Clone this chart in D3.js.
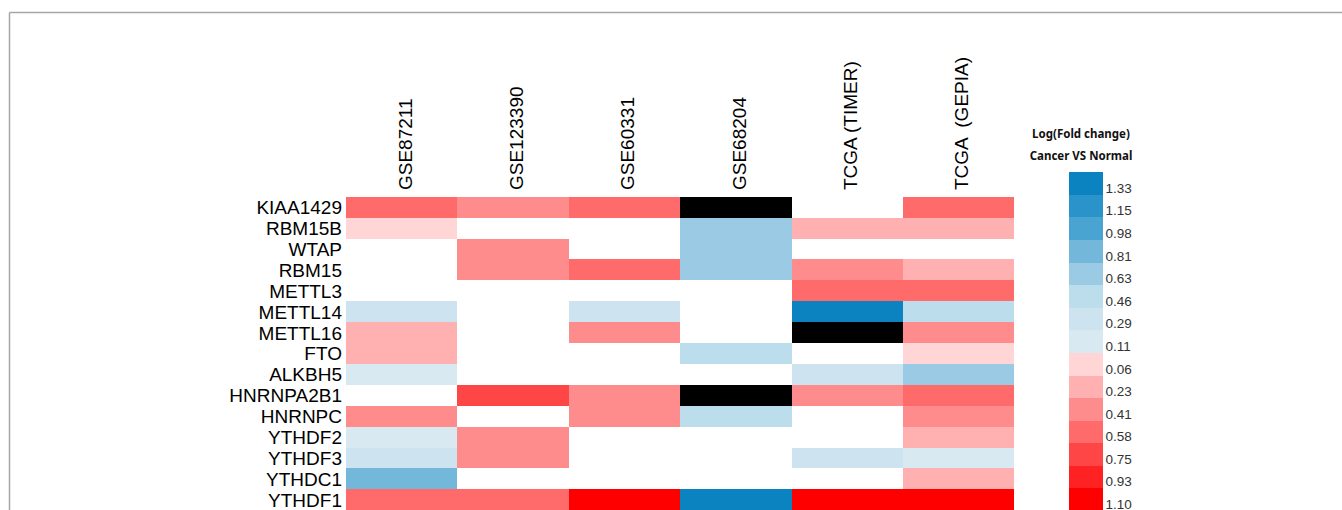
<!DOCTYPE html>
<html>
<head>
<meta charset="utf-8">
<script src="https://cdn.jsdelivr.net/npm/d3@7"></script>
<style>
  body { margin: 0; background: #fff; }
  svg { display: block; }
</style>
</head>
<body>
<svg width="1342" height="510"></svg>
<script>
"use strict";

// m6A regulators (rows) and datasets (columns)
const genes = ["KIAA1429", "RBM15B", "WTAP", "RBM15", "METTL3", "METTL14", "METTL16", "FTO",
  "ALKBH5", "HNRNPA2B1", "HNRNPC", "YTHDF2", "YTHDF3", "YTHDC1", "YTHDF1"];
const datasets = ["GSE87211", "GSE123390", "GSE60331", "GSE68204", "TCGA (TIMER)", "TCGA  (GEPIA)"];

// log fold change per dataset: negative = blue, null = blank, "NA" = black
const gse87211 = [0.58, 0.06, null, null, null, -0.29, 0.23, 0.23, -0.11, null, 0.41, -0.11, -0.29, -0.81, 0.58];
const gse123390 = [0.41, null, 0.41, 0.41, null, null, null, null, null, 0.75, null, 0.41, 0.41, null, 0.58];
const gse60331 = [0.58, null, null, 0.58, null, -0.29, 0.41, null, null, 0.41, 0.41, null, null, null, 1.10];
const gse68204 = ["NA", -0.63, -0.63, -0.63, null, null, null, -0.46, null, "NA", -0.46, null, null, null, -1.33];
const tcgaTimer = [null, 0.23, null, 0.41, 0.58, -1.33, "NA", null, -0.29, 0.41, null, null, -0.29, null, 1.10];
const tcgaGepia = [0.58, 0.23, null, 0.23, 0.58, -0.46, 0.41, 0.06, -0.63, 0.58, 0.41, 0.23, -0.11, 0.23, 1.10];

// legend tick labels, top to bottom
const legendBlue = [1.33, 1.15, 0.98, 0.81, 0.63, 0.46, 0.29, 0.11];
const legendRed = [0.06, 0.23, 0.41, 0.58, 0.75, 0.93, 1.10];

const palette = ["#0b83c1", "#2a93ca", "#4aa4d2", "#73b7db", "#9bcbe4", "#bcddec", "#cde4f0", "#d8e9f2",
  "#ffd5d5", "#ffb1b1", "#ff8c8c", "#ff6b6b", "#ff4646", "#ff2222", "#ff0000"];

const columns = [gse87211, gse123390, gse60331, gse68204, tcgaTimer, tcgaGepia];

// flatten into cells
const cells = [];
columns.forEach((col, j) => {
  col.forEach((v, i) => {
    cells.push({ gene: genes[i], set: datasets[j], value: v });
  });
});

// signed legend values (blue as negative), used to build the thresholds
const legendVals = legendBlue.map((d) => -d).concat(legendRed);
const thresholds = [];
for (let k = 0; k < legendVals.length - 1; k++) {
  const a = legendVals[k], b = legendVals[k + 1];
  thresholds.push(a < 0 && b > 0 ? 0 : (a + b) / 2);
}
const color = d3.scaleThreshold().domain(thresholds).range(palette);

const svg = d3.select("svg");

// frame lines
svg.append("line").attr("x1", 9.5).attr("x2", 1342).attr("y1", 12.5).attr("y2", 12.5)
  .attr("stroke", "#a6a6a6").attr("stroke-width", 1.5);
svg.append("line").attr("x1", 9.5).attr("x2", 9.5).attr("y1", 12.5).attr("y2", 510)
  .attr("stroke", "#a6a6a6").attr("stroke-width", 1.5);

const x = d3.scaleBand().domain(datasets).range([346, 1014.3]);
const y = d3.scaleBand().domain(genes).range([196.7, 510.2]);

const g = svg.append("g");

g.selectAll("rect.cell")
  .data(cells.filter((d) => d.value !== null))
  .enter()
  .append("rect")
  .attr("class", "cell")
  .attr("x", (d) => x(d.set))
  .attr("y", (d) => y(d.gene))
  .attr("width", x.bandwidth())
  .attr("height", y.bandwidth())
  .attr("fill", (d) => (d.value === "NA" ? "#000" : color(d.value)))
  .attr("shape-rendering", "crispEdges");

// row labels
const yAxis = d3.axisLeft(y).tickSize(0).tickPadding(4);
g.append("g")
  .attr("transform", "translate(346,0)")
  .call(yAxis)
  .call((s) => s.select(".domain").remove())
  .selectAll("text")
  .attr("font-family", "'Liberation Sans', Arial, sans-serif")
  .attr("font-size", "19px")
  .attr("fill", "#000")
  .attr("dy", "0.37em");

// column labels, rotated
const xAxis = d3.axisTop(x).tickSize(0).tickPadding(0);
g.append("g")
  .attr("transform", "translate(0,190)")
  .call(xAxis)
  .call((s) => s.select(".domain").remove())
  .selectAll("text")
  .attr("font-family", "'Liberation Sans', Arial, sans-serif")
  .attr("font-size", "19px")
  .attr("fill", "#000")
  .attr("text-anchor", "start")
  .attr("transform", "rotate(-90)")
  .attr("x", 0)
  .attr("y", 3)
  .attr("dy", "0.36em")
  .style("white-space", "pre");

// legend
const legendLabels = legendBlue.concat(legendRed);
const ly = d3.scaleBand().domain(d3.range(legendLabels.length)).range([172.3, 511]);
const legend = svg.append("g");

legend.selectAll("rect")
  .data(legendLabels)
  .enter()
  .append("rect")
  .attr("x", 1069.3)
  .attr("y", (d, i) => ly(i))
  .attr("width", 34)
  .attr("height", ly.bandwidth() + 0.3)
  .attr("fill", (d, i) => palette[i])
  .attr("shape-rendering", "crispEdges");

legend.selectAll("text.tick")
  .data(legendLabels)
  .enter()
  .append("text")
  .attr("class", "tick")
  .attr("x", 1105.5)
  .attr("y", (d, i) => ly(i) + ly.bandwidth() - 2)
  .text((d) => d3.format(".2f")(d))
  .attr("font-family", "'Liberation Sans', Arial, sans-serif")
  .attr("font-size", "13.5px")
  .attr("fill", "#333");

legend.append("text")
  .attr("x", 1081)
  .attr("y", 138)
  .attr("text-anchor", "middle")
  .text("Log(Fold change)")
  .attr("font-family", "'Noto Sans', sans-serif")
  .attr("font-weight", "bold")
  .attr("font-size", "11.5px")
  .attr("fill", "#111");

legend.append("text")
  .attr("x", 1081)
  .attr("y", 160)
  .attr("text-anchor", "middle")
  .text("Cancer VS Normal")
  .attr("font-family", "'Noto Sans', sans-serif")
  .attr("font-weight", "bold")
  .attr("font-size", "11.5px")
  .attr("fill", "#111");
</script>
</body>
</html>
